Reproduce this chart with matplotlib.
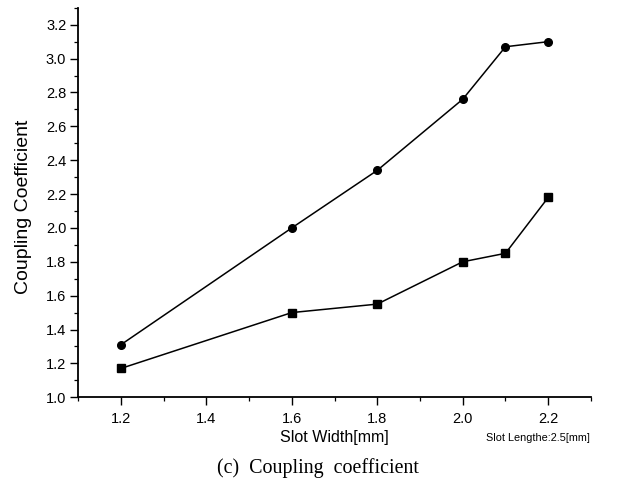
import matplotlib.pyplot as plt
from matplotlib.ticker import MultipleLocator

# slot width sweep, slot length fixed at 2.5 mm
slot_width = [1.2, 1.6, 1.8, 2.0, 2.1, 2.2]
coupling_circle = [1.31, 2.00, 2.34, 2.76, 3.07, 3.10]
coupling_square = [1.17, 1.50, 1.55, 1.80, 1.85, 2.18]
y_ticks = [1.0, 1.2, 1.4, 1.6, 1.8, 2.0, 2.2, 2.4, 2.6, 2.8, 3.0, 3.2]

plt.rcParams['font.family'] = ['Liberation Sans', 'DejaVu Sans']

fig = plt.figure(figsize=(6.3, 4.88), dpi=100)
ax = fig.add_axes([0.124, 0.186, 0.814, 0.798])

ax.plot(slot_width, coupling_circle, 'k-', marker='o', markersize=5.5, linewidth=1.1)
ax.plot(slot_width, coupling_square, 'k-', marker='s', markersize=5.5, linewidth=1.1)

ax.set_xlim(1.1, 2.3)
ax.set_ylim(1.0, 3.3)
ax.xaxis.set_major_locator(MultipleLocator(0.2))
ax.xaxis.set_minor_locator(MultipleLocator(0.1))
ax.set_yticks(y_ticks)
ax.yaxis.set_minor_locator(MultipleLocator(0.1))
ax.xaxis.set_major_formatter(plt.FormatStrFormatter('%.1f'))
ax.yaxis.set_major_formatter(plt.FormatStrFormatter('%.1f'))

for side in ('top', 'right'):
    ax.spines[side].set_visible(False)
ax.spines['left'].set_linewidth(1.3)
ax.spines['bottom'].set_linewidth(1.3)
ax.tick_params(which='major', direction='out', length=5.5, width=1.0, labelsize=10.5)
ax.tick_params(axis='x', which='major', pad=5)
ax.tick_params(axis='y', which='major', pad=3)
ax.tick_params(which='minor', direction='out', length=3, width=0.9)

ax.set_ylabel('Coupling Coefficient', fontsize=14)
ax.yaxis.set_label_coords(-0.09, 0.488)
ax.set_xlabel('Slot Width[mm]', fontsize=11.5, labelpad=3)
fig.text(0.854, 0.1025, 'Slot Lengthe:2.5[mm]', fontsize=7.8, ha='center', va='center')
fig.text(0.505, 0.041, '(c)  Coupling  coefficient', fontsize=14.4,
         family='Liberation Serif', ha='center', va='center')

fig.savefig('out.png', dpi=100)
